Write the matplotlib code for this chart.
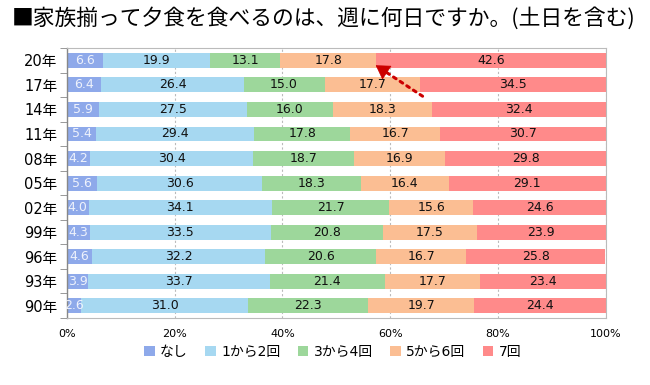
import matplotlib
matplotlib.use("Agg")
import matplotlib.pyplot as plt
from matplotlib.patches import Patch
import numpy as np

plt.rcParams['font.family'] = ['DejaVu Sans', 'Noto Sans CJK JP']

years = ["20年", "17年", "14年", "11年", "08年", "05年", "02年", "99年", "96年", "93年", "90年"]
series_names = ["なし", "1から2回", "3から4回", "5から6回", "7回"]
nashi = [6.6, 6.4, 5.9, 5.4, 4.2, 5.6, 4.0, 4.3, 4.6, 3.9, 2.6]
one_two = [19.9, 26.4, 27.5, 29.4, 30.4, 30.6, 34.1, 33.5, 32.2, 33.7, 31.0]
three_four = [13.1, 15.0, 16.0, 17.8, 18.7, 18.3, 21.7, 20.8, 20.6, 21.4, 22.3]
five_six = [17.8, 17.7, 18.3, 16.7, 16.9, 16.4, 15.6, 17.5, 16.7, 17.7, 19.7]
seven = [42.6, 34.5, 32.4, 30.7, 29.8, 29.1, 24.6, 23.9, 25.8, 23.4, 24.4]
x_ticks = [0, 20, 40, 60, 80, 100]
x_tick_labels = ["0%", "20%", "40%", "60%", "80%", "100%"]

colors = ["#8EA9EA", "#A6D8F1", "#9DD79B", "#FBBE93", "#FF8A8A"]
text_colors = ["#EEF2FC", "#111111", "#111111", "#111111", "#111111"]

fig = plt.figure(figsize=(6.5, 3.85), dpi=100)
ax = fig.add_axes([0.103, 0.174, 0.829, 0.701])

y = np.arange(len(years))
data = [nashi, one_two, three_four, five_six, seven]
left = np.zeros(len(years))
for vals, col, tc in zip(data, colors, text_colors):
    vals = np.array(vals)
    ax.barh(y, vals, left=left, height=0.61, color=col, zorder=2)
    for yi, (l, v) in enumerate(zip(left, vals)):
        ax.text(l + v / 2, yi, f"{v:.1f}", ha="center", va="center",
                fontsize=9, color=tc, zorder=3)
    left = left + vals

ax.set_xlim(0, 100)
ax.set_ylim(10.5, -0.5)
ax.set_yticks(y)
ax.set_yticklabels(years, fontsize=10.5)
ax.set_yticks(np.arange(-0.5, 10.6, 1), minor=True)
ax.tick_params(axis='y', which='major', length=0, pad=7)
ax.tick_params(axis='y', which='minor', length=5, color='#888888', direction='out')
ax.set_xticks(x_ticks)
ax.set_xticklabels(x_tick_labels, fontsize=8)
ax.tick_params(axis='x', length=0, pad=8)
ax.grid(axis='x', color='#BBBBBB', linestyle=(0, (2, 2)), linewidth=0.8, zorder=1)
for s in ['top', 'right', 'bottom']:
    ax.spines[s].set_color('#BBBBBB')
ax.spines['left'].set_color('#888888')
ax.spines['left'].set_linewidth(1.0)

# arrow annotation: dotted shaft + solid head
tail = (66.0, 1.46)
tip = (57.3, 0.2)
neck = (59.3, 0.49)
ax.annotate("", xy=neck, xytext=tail,
            arrowprops=dict(arrowstyle="-", color="#CC0000", linestyle=(0, (1, 1.6)),
                            linewidth=2.2, shrinkA=0, shrinkB=0), zorder=5)
ax.annotate("", xy=tip, xytext=neck,
            arrowprops=dict(arrowstyle="-|>,head_length=0.9,head_width=0.55",
                            color="#CC0000", linewidth=0.5, shrinkA=0, shrinkB=0), zorder=5)

fig.text(0.018, 0.953, "■家族揃って夕食を食べるのは、週に何日ですか。(土日を含む)",
         fontsize=15.7, ha="left", va="center",
         family=['Noto Sans CJK JP', 'DejaVu Sans'])

handles = [Patch(facecolor=c, edgecolor='none', label=n) for c, n in zip(colors, series_names)]
fig.legend(handles=handles, loc="center", bbox_to_anchor=(0.512, 0.086), ncol=5,
           frameon=False, fontsize=10, handlelength=0.75, handleheight=0.75,
           handletextpad=0.4, columnspacing=1.25)

fig.savefig("out.png", dpi=100)
